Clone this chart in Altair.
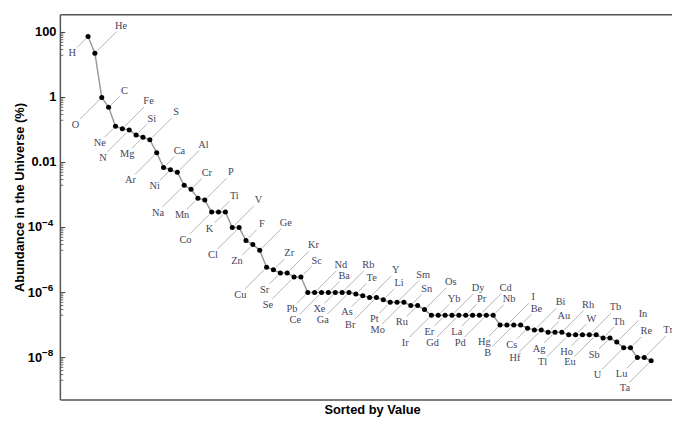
import altair as alt
import pandas as pd

# ---- data (sorted by value, percent abundance in the universe) ----
elements = ["H", "He", "O", "C", "Ne", "Fe", "N", "Si", "Mg", "S",
            "Ar", "Ca", "Ni", "Al", "Na", "Cr", "Mn", "P", "Co", "Ti",
            "K", "V", "Cl", "F", "Zn", "Ge", "Cu", "Zr", "Sr", "Kr",
            "Se", "Sc", "Pb", "Nd", "Ce", "Ba", "Xe", "Rb", "Ga", "Te",
            "As", "Y", "Br", "Li", "Pt", "Sm", "Mo", "Sn", "Ru", "Os",
            "Ir", "Yb", "Er", "Dy", "Gd", "Pr", "La", "Cd", "Pd", "Nb",
            "Hg", "I", "B", "Be", "Cs", "Bi", "Hf", "Au", "Ag", "Rh",
            "Tl", "W", "Ho", "Tb", "Eu", "Th", "Sb", "In", "U", "Re",
            "Lu", "Tm", "Ta"]
abundance = [75, 23, 1, 0.5, 0.13, 0.11, 0.1, 0.07, 0.06, 0.05,
             0.02, 0.007, 0.006, 0.005, 0.002, 0.0015, 0.0008, 0.0007, 3e-4, 3e-4,
             3e-4, 1e-4, 1e-4, 4e-5, 3e-5, 2e-5, 6e-6, 5e-6, 4e-6, 4e-6,
             3e-6, 3e-6, 1e-6, 1e-6, 1e-6, 1e-6, 1e-6, 1e-6, 1e-6, 9e-7,
             8e-7, 7e-7, 7e-7, 6e-7, 5e-7, 5e-7, 5e-7, 4e-7, 4e-7, 3e-7,
             2e-7, 2e-7, 2e-7, 2e-7, 2e-7, 2e-7, 2e-7, 2e-7, 2e-7, 2e-7,
             1e-7, 1e-7, 1e-7, 1e-7, 8e-8, 7e-8, 7e-8, 6e-8, 6e-8, 6e-8,
             5e-8, 5e-8, 5e-8, 5e-8, 5e-8, 4e-8, 4e-8, 3e-8, 2e-8, 2e-8,
             1e-8, 1e-8, 8e-9]

major_ticks = [1e2, 1e0, 1e-2, 1e-4, 1e-6, 1e-8]
plain_labels = ["100", "1", "0.01"]
exp_labels = ["\u22124", "\u22126", "\u22128"]
minor_ticks = [m * 10.0 ** e for e in (1, -1, -3, -5, -7, -9) for m in range(2, 10)]

df = pd.DataFrame({"idx": list(range(len(elements))), "el": elements, "v": abundance})

W, H = 619, 390
xs = alt.Scale(domain=[-4.03, 85.04], nice=False, zero=False)
ys = alt.Scale(type="log", domain=[10 ** -9.307, 10 ** 2.547], nice=False)

X = alt.X("idx:Q", scale=xs, axis=None)
Y = alt.Y("v:Q", scale=ys, axis=None)

base = alt.Chart(df).transform_calculate(grp="datum.idx % 4")

LABEL_FONT = "Liberation Serif"
LABEL_COLOR = "#44445a"
LEADER = "#b4b4b4"

# group: (sign, line_end, label_dx, label_dy)
groups = {
    0: (-1, 11, -16, 17),
    1: (1, 22, 26.5, -28),
    2: (-1, 22, -26.5, 28),
    3: (1, 11, 16, -16.5),
}

layers = []
for g, (s, le, ldx, ldy) in groups.items():
    sub = base.transform_filter(f"datum.grp == {g}")
    layers.append(
        sub.mark_rule(color=LEADER, strokeWidth=1,
                      xOffset=2.5 * s, yOffset=-2.5 * s,
                      x2Offset=le * s, y2Offset=-le * s).encode(
            x=X, y=Y, x2=alt.X2("idx"), y2=alt.Y2("v"))
    )

layers.append(base.mark_line(color="#9a9a9a", strokeWidth=1.5).encode(x=X, y=Y))
layers.append(base.mark_circle(color="black", opacity=1, size=26).encode(x=X, y=Y))

for g, (s, le, ldx, ldy) in groups.items():
    sub = base.transform_filter(f"datum.grp == {g}")
    layers.append(
        sub.mark_text(font=LABEL_FONT, fontSize=10.5, color=LABEL_COLOR,
                      align="center", baseline="middle", dx=ldx, dy=ldy).encode(
            x=X, y=Y, text="el:N")
    )

# ticks (inward)
tick_maj = alt.Chart(pd.DataFrame({"v": major_ticks})).mark_rule(color="#444", strokeWidth=1).encode(
    x=alt.value(0), x2=alt.value(5), y=Y)
tick_min = alt.Chart(pd.DataFrame({"v": minor_ticks})).mark_rule(color="#444", strokeWidth=0.8).encode(
    x=alt.value(0), x2=alt.value(3), y=Y)

# tick labels
lab_df = pd.DataFrame({"v": major_ticks[:3], "t": plain_labels})
exp_df = pd.DataFrame({"v": major_ticks[3:], "e": exp_labels})
AXFONT = "Liberation Sans"
tl_plain = alt.Chart(lab_df).mark_text(font=AXFONT, fontSize=13, fontWeight="bold", align="right",
                                        baseline="middle", color="black").encode(
    x=alt.value(-4), y=Y, text="t:N")
tl_ten = alt.Chart(exp_df).mark_text(font=AXFONT, fontSize=13, fontWeight="bold", align="right",
                                      baseline="middle", color="black").encode(
    x=alt.value(-18.5), y=Y, text=alt.value("10"))
tl_exp = alt.Chart(exp_df).mark_text(font=AXFONT, fontSize=10, fontWeight="bold", align="left",
                                      baseline="middle", color="black", dy=-5).encode(
    x=alt.value(-18.5), y=Y, text="e:N")

one = pd.DataFrame({"a": [0]})
frame_col = "#555555"
left = alt.Chart(one).mark_rule(color=frame_col, strokeWidth=1.5).encode(
    x=alt.value(0), y=alt.value(0), y2=alt.value(H))
top = alt.Chart(one).mark_rule(color=frame_col, strokeWidth=1.5).encode(
    x=alt.value(0), x2=alt.value(W + 20), y=alt.value(0))
bottom = alt.Chart(one).mark_rule(color=frame_col, strokeWidth=1.5).encode(
    x=alt.value(0), x2=alt.value(W + 20), y=alt.value(H))

ytitle = alt.Chart(one).mark_text(font=AXFONT, fontSize=13, fontWeight="bold", angle=270,
                                  align="center", baseline="middle", color="black").encode(
    x=alt.value(-41), y=alt.value(185), text=alt.value("Abundance in the Universe (%)"))
xtitle = alt.Chart(one).mark_text(font=AXFONT, fontSize=13, fontWeight="bold",
                                  align="center", baseline="middle", color="black").encode(
    x=alt.value(316), y=alt.value(400), text=alt.value("Sorted by Value"))

chart = alt.layer(*layers, tick_maj, tick_min, tl_plain, tl_ten, tl_exp,
                  left, top, bottom, ytitle, xtitle).properties(
    width=W, height=H,
    autosize=alt.AutoSizeParams(type="none"),
    padding={"left": 53, "top": 4.3, "right": 0, "bottom": 18.7},
).configure_view(stroke=None)

chart.save("out.html", embed_options={"renderer": "svg", "actions": False})
